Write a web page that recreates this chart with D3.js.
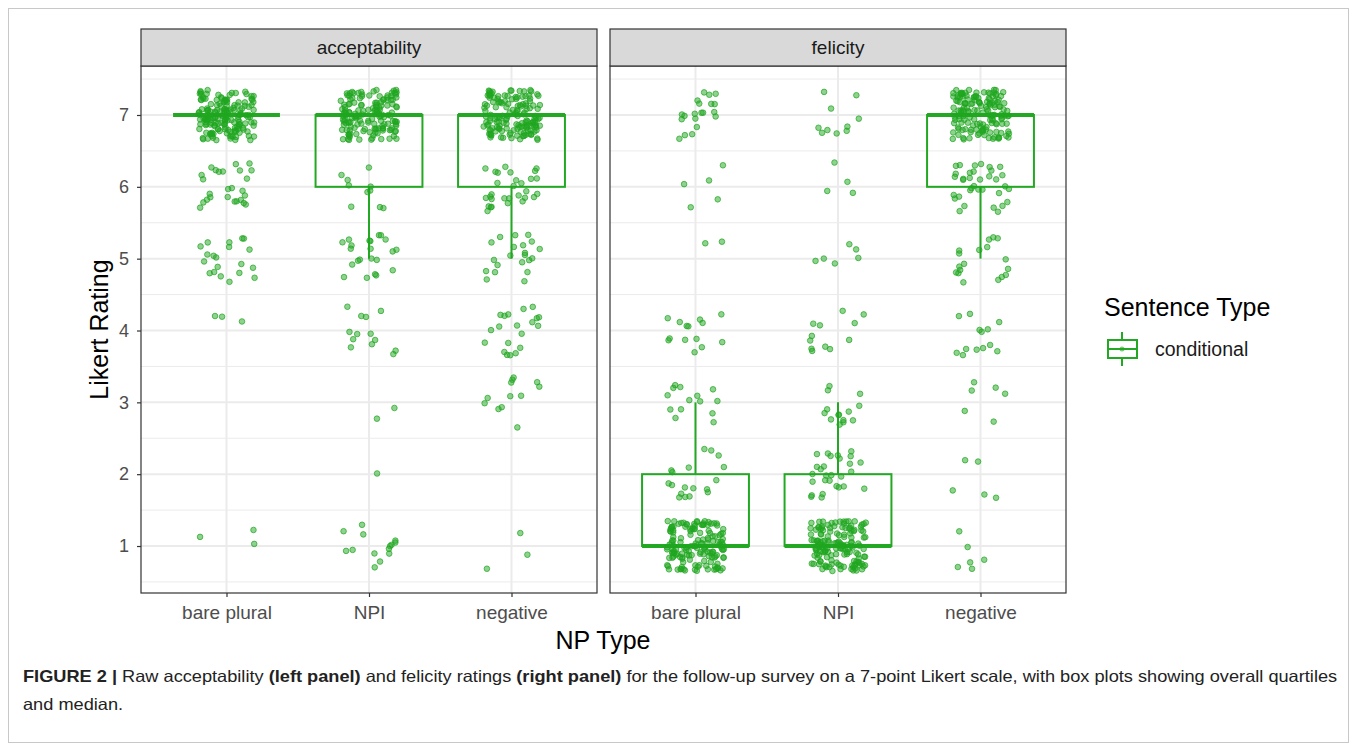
<!DOCTYPE html>
<html>
<head>
<meta charset="utf-8">
<script src="https://cdn.jsdelivr.net/npm/d3@7"></script>
<style>
  body { margin: 0; background: #fff; }
  svg { display: block; font-family: "Liberation Sans", Arial, sans-serif; }
</style>
</head>
<body>
<div id="chart"></div>
<script>
// Panels, categories and counts of ratings (index 0 = rating 1 ... index 6 = rating 7)
const panels = ['acceptability', 'felicity'];
const npTypes = ['bare plural', 'NPI', 'negative'];
const ratings = [1, 2, 3, 4, 5, 6, 7];
const yTicks = [1, 2, 3, 4, 5, 6, 7];

const accBarePlural = [3, 0, 0, 3, 20, 26, 165];
const accNPI = [14, 1, 2, 13, 22, 10, 150];
const accNegative = [3, 0, 12, 20, 21, 30, 150];
const felBarePlural = [150, 18, 14, 14, 2, 5, 20];
const felNPI = [150, 28, 14, 12, 6, 4, 10];
const felNegative = [6, 5, 6, 13, 18, 35, 150];

const countsByPanel = {
    acceptability: [accBarePlural, accNPI, accNegative],
    felicity: [felBarePlural, felNPI, felNegative]
};

const green = '#22a822';

const W = 1357, H = 744;
const svg = d3.select('#chart').append('svg')
    .attr('width', W)
    .attr('height', H);

// outer figure frame
svg.append('rect')
    .attr('x', 8.5).attr('y', 8.5)
    .attr('width', W - 17).attr('height', H - 10)
    .attr('fill', 'none')
    .attr('stroke', '#c8c8c8');

const panelTop = 66, panelBottom = 593, stripTop = 29;
const panelX = [141, 610];
const panelW = 456;

const y = d3.scaleLinear()
    .domain([0.346, 7.682])
    .range([panelBottom, panelTop]);

// deterministic jitter offsets in [-1, 1] (placement only, not data)
function jitter(a, b, c, d) {
    const s = Math.sin(a * 12.9898 + b * 78.233 + c * 37.719 + d * 4.581) * 43758.5453;
    return (s - Math.floor(s)) * 2 - 1;
}

panels.forEach((panel, pi) => {
    const x0 = panelX[pi];
    const x = d3.scalePoint()
        .domain(npTypes)
        .range([x0, x0 + panelW])
        .padding(0.6);
    const step = x.step();

    const g = svg.append('g');

    // grid lines
    const minor = d3.range(0.5, 8, 1);
    g.selectAll('.minor')
        .data(minor)
        .join('line')
        .attr('x1', x0).attr('x2', x0 + panelW)
        .attr('y1', d => y(d)).attr('y2', d => y(d))
        .attr('stroke', '#ebebeb')
        .attr('stroke-width', 1);
    g.selectAll('.major')
        .data(yTicks)
        .join('line')
        .attr('x1', x0).attr('x2', x0 + panelW)
        .attr('y1', d => y(d)).attr('y2', d => y(d))
        .attr('stroke', '#ebebeb')
        .attr('stroke-width', 2);
    g.selectAll('.vmajor')
        .data(npTypes)
        .join('line')
        .attr('x1', d => x(d)).attr('x2', d => x(d))
        .attr('y1', panelTop).attr('y2', panelBottom)
        .attr('stroke', '#ebebeb')
        .attr('stroke-width', 2);

    npTypes.forEach((np, ci) => {
        const counts = countsByPanel[panel][ci];
        const values = [];
        counts.forEach((n, ri) => {
            for (let k = 0; k < n; k++) values.push(ratings[ri]);
        });
        values.sort(d3.ascending);

        // box plot statistics
        const q1 = d3.quantile(values, 0.25);
        const med = d3.quantile(values, 0.5);
        const q3 = d3.quantile(values, 0.75);
        const iqr = q3 - q1;
        const lo = d3.min(values.filter(v => v >= q1 - 1.5 * iqr));
        const hi = d3.max(values.filter(v => v <= q3 + 1.5 * iqr));

        const cx = x(np);
        const bw = step * 0.75;

        const box = g.append('g')
            .attr('stroke', green)
            .attr('fill', 'none');
        box.append('line')
            .attr('x1', cx).attr('x2', cx)
            .attr('y1', y(q3)).attr('y2', y(hi))
            .attr('stroke-width', 2);
        box.append('line')
            .attr('x1', cx).attr('x2', cx)
            .attr('y1', y(q1)).attr('y2', y(lo))
            .attr('stroke-width', 2);
        box.append('rect')
            .attr('x', cx - bw / 2).attr('width', bw)
            .attr('y', y(q3)).attr('height', y(q1) - y(q3))
            .attr('stroke-width', 2);
        box.append('line')
            .attr('x1', cx - bw / 2).attr('x2', cx + bw / 2)
            .attr('y1', y(med)).attr('y2', y(med))
            .attr('stroke-width', 4);

        // jittered points
        const pts = [];
        counts.forEach((n, ri) => {
            for (let k = 0; k < n; k++) {
                pts.push({
                    v: ratings[ri],
                    jx: jitter(pi + 1, ci + 1, ri + 1, k + 1),
                    jy: jitter(k + 3, ri + 5, ci + 7, pi + 11)
                });
            }
        });
        g.append('g')
            .selectAll('circle')
            .data(pts)
            .join('circle')
            .attr('cx', d => cx + d.jx * 0.2 * step)
            .attr('cy', d => y(d.v + d.jy * 0.35))
            .attr('r', 2.8)
            .attr('fill', '#1fa61f')
            .attr('fill-opacity', 0.5)
            .attr('stroke', '#1fa61f')
            .attr('stroke-opacity', 0.7)
            .attr('stroke-width', 1);
    });

    // panel border
    g.append('rect')
        .attr('x', x0).attr('y', panelTop)
        .attr('width', panelW).attr('height', panelBottom - panelTop)
        .attr('fill', 'none')
        .attr('stroke', '#333')
        .attr('stroke-width', 1.2);

    // strip
    g.append('rect')
        .attr('x', x0).attr('y', stripTop)
        .attr('width', panelW).attr('height', panelTop - stripTop)
        .attr('fill', '#d9d9d9')
        .attr('stroke', '#333')
        .attr('stroke-width', 1.2);
    g.append('text')
        .attr('x', x0 + panelW / 2)
        .attr('y', (stripTop + panelTop) / 2)
        .attr('dy', '0.35em')
        .attr('text-anchor', 'middle')
        .attr('font-size', 19)
        .attr('fill', '#1a1a1a')
        .text(panel);

    // x axis
    const xAxis = svg.append('g')
        .attr('transform', `translate(0,${panelBottom})`)
        .call(d3.axisBottom(x).tickSize(4).tickPadding(9));
    xAxis.select('.domain').remove();
    xAxis.selectAll('line').attr('stroke', '#333').attr('stroke-width', 1.2);
    xAxis.selectAll('text')
        .attr('font-size', 19)
        .attr('font-family', '"Liberation Sans", Arial, sans-serif')
        .attr('fill', '#4d4d4d');

    if (pi === 0) {
        const yAxis = svg.append('g')
            .attr('transform', `translate(${x0},0)`)
            .call(d3.axisLeft(y).tickValues(yTicks).tickSize(4).tickPadding(8).tickFormat(d3.format('d')));
        yAxis.select('.domain').remove();
        yAxis.selectAll('line').attr('stroke', '#333').attr('stroke-width', 1.2);
        yAxis.selectAll('text')
            .attr('font-size', 18)
            .attr('font-family', '"Liberation Sans", Arial, sans-serif')
            .attr('fill', '#4d4d4d');
    }
});

// axis titles
svg.append('text')
    .attr('x', 603).attr('y', 649)
    .attr('text-anchor', 'middle')
    .attr('font-size', 25)
    .attr('fill', '#000')
    .text('NP Type');
svg.append('text')
    .attr('transform', `translate(108,${(panelTop + panelBottom) / 2}) rotate(-90)`)
    .attr('text-anchor', 'middle')
    .attr('font-size', 25)
    .attr('fill', '#000')
    .text('Likert Rating');

// legend
const lg = svg.append('g').attr('transform', 'translate(1104,0)');
lg.append('text')
    .attr('x', 0).attr('y', 316)
    .attr('font-size', 25)
    .attr('fill', '#000')
    .text('Sentence Type');
const key = lg.append('g').attr('stroke', green).attr('fill', 'none').attr('stroke-width', 2);
key.append('line').attr('x1', 18).attr('x2', 18).attr('y1', 332).attr('y2', 366);
key.append('rect').attr('x', 4).attr('y', 340).attr('width', 29).attr('height', 18).attr('fill', '#fff');
key.append('line').attr('x1', 4).attr('x2', 33).attr('y1', 349).attr('y2', 349);
lg.append('circle')
    .attr('cx', 18).attr('cy', 349).attr('r', 2.5)
    .attr('fill', green).attr('fill-opacity', 0.6);
lg.append('text')
    .attr('x', 51).attr('y', 349)
    .attr('dy', '0.35em')
    .attr('font-size', 19.5)
    .attr('fill', '#1a1a1a')
    .text('conditional');

// caption
const cap = svg.append('g').attr('transform', 'translate(23,682)');
const capText = cap.append('text')
    .attr('font-size', 16.5)
    .attr('fill', '#222');
const parts = [
    ['FIGURE 2 | ', true],
    ['Raw acceptability ', false],
    ['(left panel)', true],
    [' and felicity ratings ', false],
    ['(right panel)', true],
    [' for the follow-up survey on a 7-point Likert scale, with box plots showing overall quartiles', false]
];
parts.forEach(p => {
    capText.append('tspan')
        .attr('font-weight', p[1] ? 'bold' : 'normal')
        .text(p[0]);
});
const capLen = capText.node().getComputedTextLength();
const sx = 1315 / capLen;
capText.attr('transform', `scale(${sx},1)`);
svg.append('text')
    .attr('transform', `translate(23,710) scale(${sx},1)`)
    .attr('font-size', 16.5)
    .attr('fill', '#222')
    .text('and median.');
</script>
</body>
</html>
